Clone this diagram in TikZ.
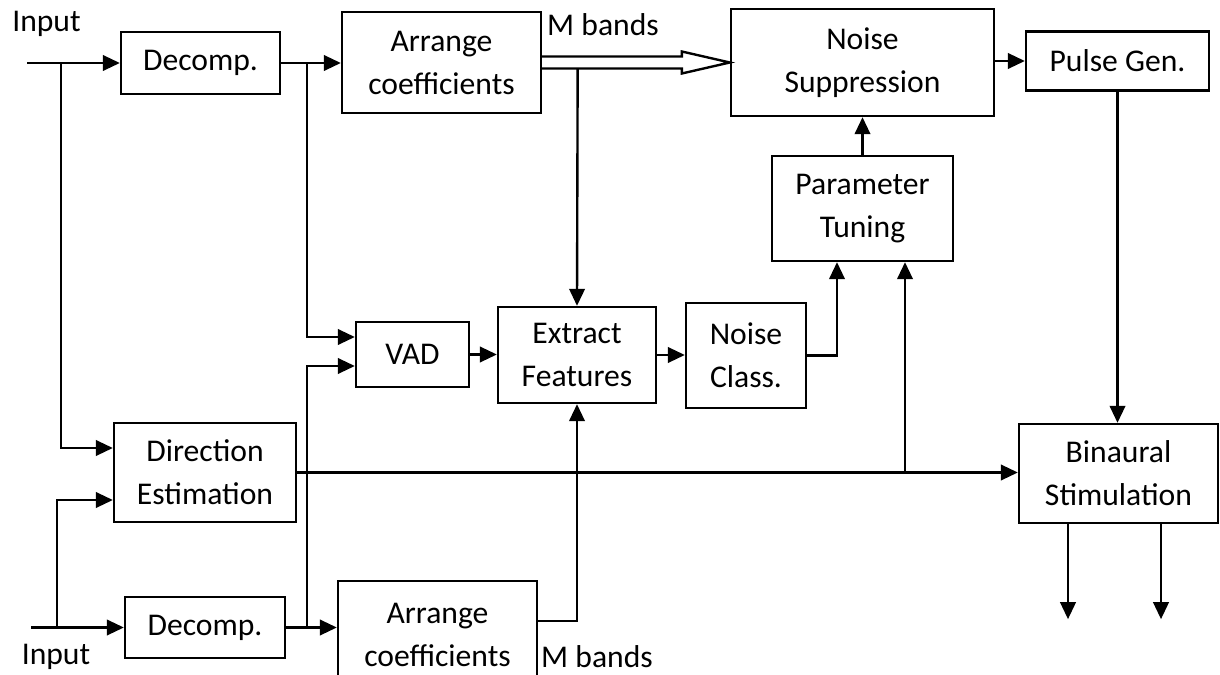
\documentclass[tikz,border=0pt]{standalone}
\usepackage{fontspec}
\setmainfont{Carlito}
\usetikzlibrary{arrows.meta,calc}
\tikzset{
  blk/.style={draw, line width=1.35pt, align=center, inner sep=0pt, font=\fontsize{18pt}{24.5pt}\selectfont},
  lbl/.style={inner sep=0pt, font=\fontsize{18pt}{24.5pt}\selectfont},
  ln/.style={line width=1.35pt},
  arr/.style={line width=1.35pt, -{Triangle[length=0.34cm,width=0.31cm]}}
}
\begin{document}
\begin{tikzpicture}[x=0.02cm,y=-0.02cm]
\useasboundingbox (0,0) rectangle (1220,675);
\clip (0,0) rectangle (1220,675);
% blocks
\node[blk, minimum width=3.18cm, minimum height=1.24cm] (dec1) at (200.5,63) {Decomp.};
\node[blk, minimum width=3.98cm, minimum height=2.02cm] (arr1) at (441.5,62.5) {Arrange\\coefficients};
\node[blk, minimum width=5.26cm, minimum height=2.14cm] (ns) at (862.5,62.5) {Noise\\Suppression};
\node[blk, minimum width=3.66cm, minimum height=1.18cm] (pg) at (1117.5,61) {Pulse Gen.};
\node[blk, minimum width=3.62cm, minimum height=2.10cm] (pt) at (862.5,208.5) {Parameter\\Tuning};
\node[blk, minimum width=2.40cm, minimum height=2.10cm] (nc) at (746,355.5) {Noise\\Class.};
\node[blk, minimum width=3.16cm, minimum height=1.92cm] (ef) at (577,355) {Extract\\Features};
\node[blk, minimum width=2.26cm, minimum height=1.30cm] (vad) at (412.5,354.5) {VAD};
\node[blk, minimum width=3.64cm, minimum height=1.98cm] (de) at (205,472.5) {Direction\\Estimation};
\node[blk, minimum width=3.98cm, minimum height=1.98cm] (bs) at (1118.5,473.5) {Binaural\\Stimulation};
\node[blk, minimum width=3.20cm, minimum height=1.22cm] (dec2) at (205,627.5) {Decomp.};
\node[blk, minimum width=3.98cm, minimum height=2.16cm] (arr2) at (437.5,635) {Arrange\\coefficients};
% labels
\node[lbl] (inlab1) at (46.5,24) {Input};
\node[lbl] (inlab2) at (56,657) {Input};
\node[lbl] (mb1) at (603,25) {M bands};
\node[lbl] (mb2) at (597,657) {M bands};
% coordinates
\coordinate (in1) at (27,63);
\coordinate (b1) at (61,63);
\coordinate (b2) at (307,63);
\coordinate (in2) at (31,627.5);
\coordinate (b3) at (57,627.5);
\coordinate (b4) at (307,627.5);
\coordinate (ptl) at ($(pt.south)+(-25.5,0)$);
\coordinate (ptr) at ($(pt.south)+(42.5,0)$);
\coordinate (o1) at ($(bs.south)+(-50.5,0)$);
\coordinate (o2) at ($(bs.south)+(42.5,0)$);
% top input
\draw[arr] (in1) -- (dec1.west);
\draw[arr] (b1) |- ($(de.west)+(0,-24.5)$);
\draw[arr] (dec1.east) -- (dec1.east -| arr1.west);
\draw[arr] (b2) |- ($(vad.west)+(0,-17.5)$);
% hollow M bands arrow
\draw[ln, line join=miter] ($(arr1.east)+(0,-6)$) -- ($(ns.west)+(-48,-6)$) -- ($(ns.west)+(-48,-11)$) -- (ns.west) -- ($(ns.west)+(-48,11)$) -- ($(ns.west)+(-48,6)$) -- ($(arr1.east)+(0,6)$);
\draw[arr] ($(arr1.east)+(35.5,6)$) -- (ef.north);
% right part
\draw[arr] (pt.north) -- (ns.south);
\draw[arr] (ns.east |- pg.west) -- (pg.west);
\draw[arr] (pg.south) -- (pg.south |- bs.north);
\draw[arr] (vad.east) -- (vad.east -| ef.west);
\draw[arr] (ef.east) -- (ef.east -| nc.west);
\draw[arr] (nc.east) -| (ptl);
\draw[arr] (de.east) -- (de.east -| bs.west);
\draw[arr] (de.east -| ptr) -- (ptr);
\draw[arr] (o1) -- ++(0,95);
\draw[arr] (o2) -- ++(0,95);
% bottom input
\draw[arr] (in2) -- (dec2.west);
\draw[arr] (b3) |- ($(de.west)+(0,27.5)$);
\draw[arr] (dec2.east) -- (dec2.east -| arr2.west);
\draw[arr] (b4) |- ($(vad.west)+(0,11.5)$);
\draw[arr] ($(arr2.east)+(0,-14)$) -| (ef.south);
\end{tikzpicture}
\end{document}
